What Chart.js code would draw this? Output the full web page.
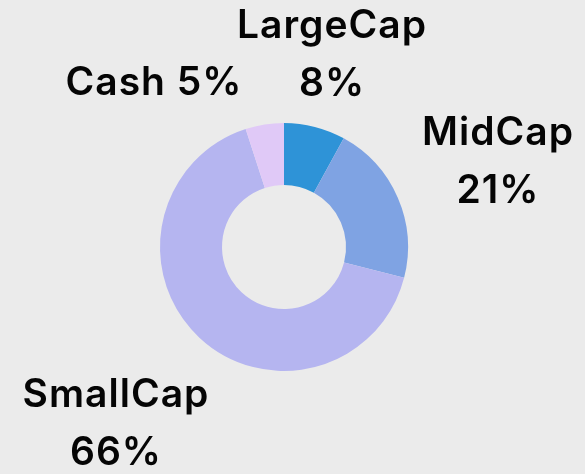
<!DOCTYPE html>
<html>
<head>
<meta charset="utf-8">
<script src="https://cdn.jsdelivr.net/npm/chart.js@4"></script>
<style>
  html, body { margin: 0; padding: 0; background: #ebebeb; }
  #wrap { width: 585px; height: 474px; position: relative; }
</style>
</head>
<body>
<div id="wrap"><canvas id="allocation-chart"></canvas></div>
<script>
  'use strict';

  // Portfolio allocation by segment (percent)
  const categories = ['LargeCap', 'MidCap', 'SmallCap', 'Cash'];
  const shares = [8, 21, 66, 5];
  const sliceColors = ['#2e93d7', '#7fa3e3', '#b5b5f0', '#e0c9f7'];

  // Where each label block sits, relative to the donut centre:
  // [centre x offset, first baseline offset, single line?]
  const labelAnchors = [
    [48, -209, false],
    [214, -102, false],
    [-168, 160, false],
    [-130, -152, true]
  ];
  const lineGap = 58;

  const outsideLabels = {
    id: 'outsideLabels',
    afterDatasetsDraw(chart) {
      const ctx = chart.ctx;
      const meta = chart.getDatasetMeta(0);
      const total = shares.reduce((a, b) => a + b, 0);
      ctx.save();
      ctx.fillStyle = '#050505';
      ctx.font = '600 39px Inter, "Open Sans", sans-serif';
      ctx.letterSpacing = '1px';
      ctx.textAlign = 'center';
      ctx.textBaseline = 'alphabetic';
      meta.data.forEach((arc, i) => {
        const pct = Math.round(shares[i] / total * 100) + '%';
        const a = labelAnchors[i];
        const x = arc.x + a[0];
        const y = arc.y + a[1];
        if (a[2]) {
          ctx.fillText(categories[i] + ' ' + pct, x, y);
        } else {
          ctx.fillText(categories[i], x, y);
          ctx.fillText(pct, x, y + lineGap);
        }
      });
      ctx.restore();
    }
  };

  new Chart(document.getElementById('allocation-chart'), {
    type: 'doughnut',
    data: {
      labels: categories,
      datasets: [{
        data: shares,
        backgroundColor: sliceColors,
        borderWidth: 0
      }]
    },
    options: {
      responsive: true,
      maintainAspectRatio: false,
      animation: false,
      cutout: '50%',
      layout: {
        padding: { left: 160, right: 177, top: 123, bottom: 103 }
      },
      plugins: {
        legend: { display: false },
        tooltip: { enabled: false }
      }
    },
    plugins: [outsideLabels]
  });
</script>
</body>
</html>
